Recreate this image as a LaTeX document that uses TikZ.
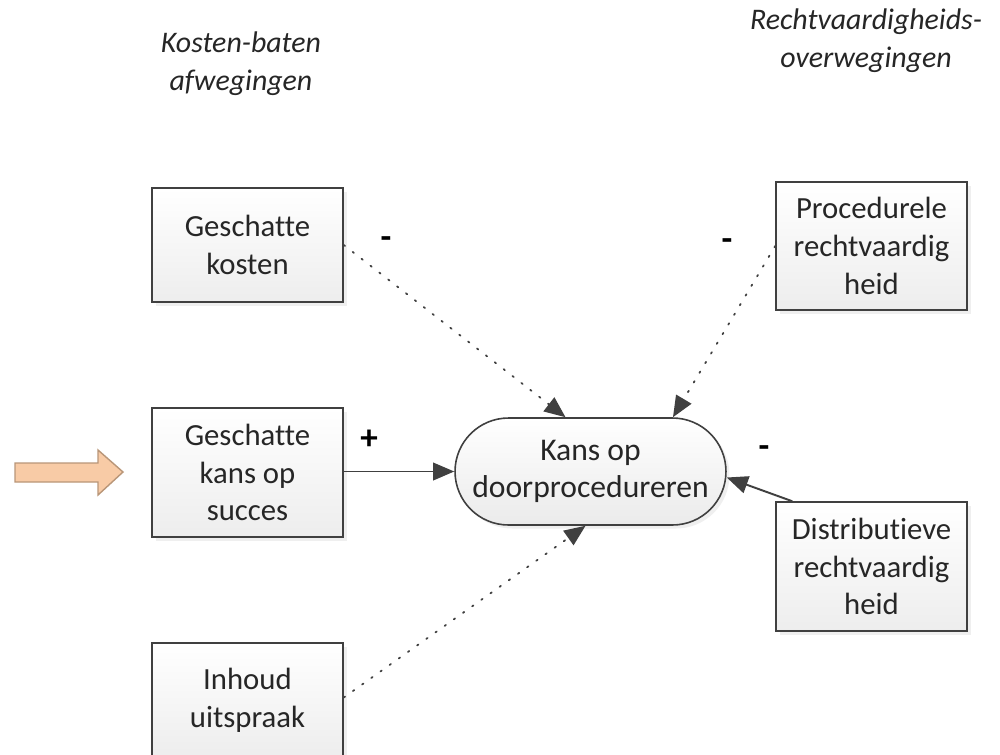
\documentclass[tikz,border=0pt]{standalone}
\usepackage{fontspec}
\setmainfont{Carlito}[Ligatures=NoCommon]
\usetikzlibrary{arrows.meta,shadows}
\definecolor{txt}{HTML}{262626}
\definecolor{edge}{HTML}{404040}
\definecolor{peach}{RGB}{248,203,166}
\definecolor{peachline}{RGB}{185,150,120}
\tikzset{
  box/.style={draw=edge, line width=0.9pt, top color=white, bottom color=black!7,
    minimum width=3.82cm, align=center, text=txt, font=\fontsize{17.5}{21.5}\selectfont,
    drop shadow={shadow xshift=2pt, shadow yshift=-2pt, fill=black!12}},
  oval/.style={draw=edge, line width=0.9pt, top color=white, bottom color=black!8,
    minimum width=5.42cm, minimum height=2.14cm, rounded corners=1.07cm, align=center,
    text=txt, font=\fontsize{18}{21.5}\selectfont,
    drop shadow={shadow xshift=2pt, shadow yshift=-2pt, fill=black!12}},
  dotcon/.style={draw=edge, line width=1pt, dash pattern=on 0.9pt off 5.5pt, line cap=round,
    -{Triangle[length=12pt,width=10pt,fill=edge]}},
  solcon/.style={draw=edge, line width=1.1pt, -{Triangle[length=12pt,width=10pt,fill=edge]}},
  sign/.style={text=black, font=\fontsize{20}{22}\bfseries\selectfont},
  title/.style={align=center, text=txt, font=\fontsize{17}{21.5}\itshape\selectfont}
}
\begin{document}
\begin{tikzpicture}[x=0.02cm,y=-0.02cm]
\useasboundingbox[fill=white] (0,0) rectangle (1000,754);
\node[title] (t1) at (241,64) {Kosten-baten\\afwegingen};
\node[title] (t2) at (866,41) {Rechtvaardigheids-\\overwegingen};
\node[box, minimum height=2.28cm] (kosten) at (247.5,245) {Geschatte\\kosten};
\node[box, minimum height=2.58cm] (succes) at (247.5,472.5) {Geschatte\\kans op\\succes};
\node[box, minimum height=2.28cm] (inhoud) at (247.5,700) {Inhoud\\uitspraak};
\node[box, minimum height=2.56cm] (proc) at (871.5,246) {Procedurele\\rechtvaardig\\heid};
\node[box, minimum height=2.58cm] (dist) at (871.5,566.5) {Distributieve\\rechtvaardig\\heid};
\node[oval] (kans) at (590.5,471.5) {Kans op\\doorprocedureren};
\draw[fill=peach, draw=peachline, line width=0.8pt]
  (15,463) -- (98,463) -- (98,450) -- (123,472) -- (98,495) -- (98,482) -- (15,482) -- cycle;
\draw[dotcon] (kosten.east) -- ([xshift=-0.5cm]kans.north);
\draw[dotcon] (proc.west) -- ([xshift=1.65cm]kans.north);
\draw[solcon] (succes.east |- kans.west) -- (kans.west);
\draw[dotcon] ([yshift=0.05cm]inhoud.east) -- ([xshift=-0.1cm]kans.south);
\draw[solcon] ([xshift=0.34cm]dist.north west) -- ([yshift=-0.12cm]kans.east);
\node[sign] (m1) at (386,243) {-};
\node[sign] (m2) at (727,245) {-};
\node[sign] (p1) at (369,440) {+};
\node[sign] (m3) at (764,452) {-};
\end{tikzpicture}
\end{document}
